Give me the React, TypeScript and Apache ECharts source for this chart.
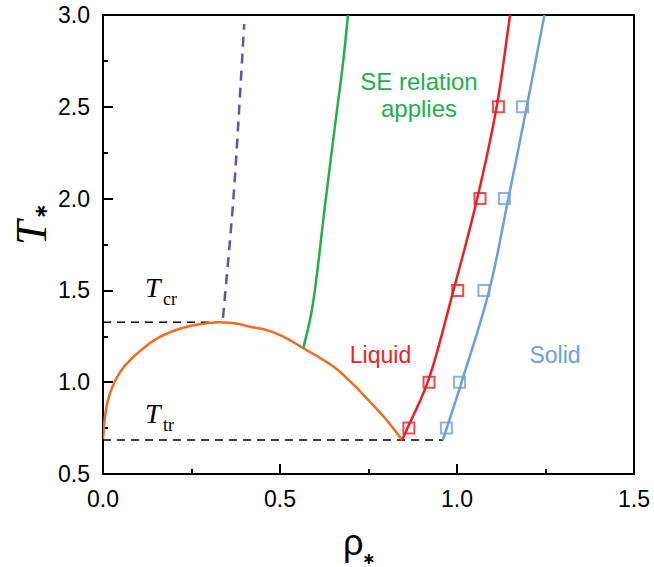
import React, { useEffect, useRef } from "react";
import * as echarts from "echarts";

// Coexistence (gas-liquid) curve
const coexRho = [0, 0.0056, 0.014, 0.029, 0.057, 0.105, 0.152, 0.199, 0.246, 0.29, 0.33, 0.38, 0.415, 0.462, 0.509, 0.566, 0.651, 0.698, 0.745, 0.801, 0.845];
const coexT = [0.69, 0.812, 0.9, 0.985, 1.078, 1.17, 1.237, 1.279, 1.306, 1.32, 1.326, 1.318, 1.302, 1.284, 1.248, 1.185, 1.085, 1.005, 0.912, 0.794, 0.685];

// Dashed line above the critical point
const dashRho = [0.339, 0.368, 0.399];
const dashT = [1.35, 1.992, 2.95];

// SE relation boundary (green)
const seRho = [0.566, 0.59, 0.629, 0.655, 0.679, 0.692];
const seT = [1.185, 1.393, 1.992, 2.392, 2.755, 3.0];

// Freezing line (red)
const freezeRho = [0.845, 0.86, 0.917, 0.99, 1.057, 1.112, 1.15];
const freezeT = [0.685, 0.75, 1.0, 1.5, 2.0, 2.5, 3.0];

// Melting line (blue)
const meltRho = [0.96, 0.971, 1.013, 1.091, 1.145, 1.197, 1.247];
const meltT = [0.685, 0.75, 1.0, 1.5, 2.0, 2.5, 3.0];

// Simulation points
const liqPtRho = [0.864, 0.921, 1.002, 1.065, 1.117];
const liqPtT = [0.75, 1.0, 1.5, 2.0, 2.5];
const solPtRho = [0.97, 1.007, 1.076, 1.134, 1.185];
const solPtT = [0.75, 1.0, 1.5, 2.0, 2.5];

// Critical and triple temperatures
const Tcr = 1.326;
const Ttr = 0.685;
const TcrLineRho = [0, 0.33];
const TtrLineRho = [0, 0.96];

const zip = (a: number[], b: number[]) => a.map((v, i) => [v, b[i]]);

const ORANGE = "#f26b21";
const GREEN = "#20b04b";
const RED = "#ee1d23";
const BLUE = "#6a9fd9";
const PURPLE = "#6b4fa6";

const SANS = "'Liberation Sans', Arial, Helvetica, sans-serif";
const SERIF = "'Liberation Serif', 'Times New Roman', serif";

// Centripetal Catmull-Rom spline through pixel points (rendering only)
function catmullRom(P: number[][], seg: number): number[][] {
  const n = P.length;
  if (n < 3) return P;
  const out: number[][] = [P[0]];
  const d = (a: number[], b: number[]) => Math.max(Math.pow(Math.hypot(a[0] - b[0], a[1] - b[1]), 0.5), 1e-4);
  const lerp = (a: number[], b: number[], ta: number, tb: number, t: number) => {
    const w = (t - ta) / (tb - ta);
    return [a[0] + (b[0] - a[0]) * w, a[1] + (b[1] - a[1]) * w];
  };
  for (let i = 0; i < n - 1; i++) {
    const p1 = P[i];
    const p2 = P[i + 1];
    const p0 = i > 0 ? P[i - 1] : [2 * p1[0] - p2[0], 2 * p1[1] - p2[1]];
    const p3 = i + 2 < n ? P[i + 2] : [2 * p2[0] - p1[0], 2 * p2[1] - p1[1]];
    const t0 = 0;
    const t1 = t0 + d(p0, p1);
    const t2 = t1 + d(p1, p2);
    const t3 = t2 + d(p2, p3);
    for (let k = 1; k <= seg; k++) {
      const t = t1 + ((t2 - t1) * k) / seg;
      const A1 = lerp(p0, p1, t0, t1, t);
      const A2 = lerp(p1, p2, t1, t2, t);
      const A3 = lerp(p2, p3, t2, t3, t);
      const B1 = lerp(A1, A2, t0, t2, t);
      const B2 = lerp(A2, A3, t1, t3, t);
      out.push(lerp(B1, B2, t1, t2, t));
    }
  }
  return out;
}

function curve(rho: number[], T: number[], color: string, width: number, dash?: number[]) {
  const pts = zip(rho, T);
  return {
    type: "custom",
    data: pts,
    z: 3,
    clip: true,
    silent: true,
    renderItem: (params: any, api: any) => {
      if (params.dataIndex !== 0) return null;
      const px = pts.map((p) => api.coord(p));
      return {
        type: "polyline",
        shape: { points: catmullRom(px, 16) },
        style: { stroke: color, lineWidth: width, fill: null, lineDash: dash, lineJoin: "round", lineCap: "butt" },
      };
    },
  };
}

export default function App() {
  const ref = useRef<HTMLDivElement>(null);
  useEffect(() => {
    if (!ref.current) return;
    const chart = echarts.init(ref.current, undefined, { renderer: "svg" });
    const lineBase = { type: "line", showSymbol: false, symbol: "none", z: 2 } as any;
    const axisCommon = {
      axisLine: { show: true, onZero: false, lineStyle: { color: "#000", width: 2 } },
      axisTick: { show: true, inside: true, length: 10, lineStyle: { color: "#000", width: 2 } },
      minorTick: { show: true, splitNumber: 2, length: 5, lineStyle: { color: "#000", width: 2 } },
      splitLine: { show: false },
      axisLabel: { color: "#000", fontSize: 23, fontFamily: SANS, margin: 13, formatter: (v: number) => v.toFixed(1) },
    };
    chart.setOption({
      animation: false,
      grid: { left: 103, top: 15, right: 20, bottom: 93, show: true, borderColor: "#000", borderWidth: 2, backgroundColor: "transparent" },
      xAxis: { type: "value", min: 0, max: 1.5, interval: 0.5, ...axisCommon },
      yAxis: { type: "value", min: 0.5, max: 3.0, interval: 0.5, ...axisCommon },
      series: [
        { ...lineBase, data: zip(TcrLineRho, [Tcr, Tcr]), lineStyle: { color: "#000", width: 1.5, type: [8, 6] } },
        { ...lineBase, data: zip(TtrLineRho, [Ttr, Ttr]), lineStyle: { color: "#000", width: 1.5, type: [8, 6] } },
        curve(coexRho, coexT, ORANGE, 2.5),
        curve(dashRho, dashT, PURPLE, 2.5, [10, 7]),
        curve(seRho, seT, GREEN, 2.5),
        curve(freezeRho, freezeT, RED, 2.5),
        curve(meltRho, meltT, BLUE, 2.5),
        { type: "scatter", data: zip(liqPtRho, liqPtT), symbol: "rect", symbolSize: 11, z: 4, itemStyle: { color: "rgba(255,255,255,0)", borderColor: RED, borderWidth: 2 } },
        { type: "scatter", data: zip(solPtRho, solPtT), symbol: "rect", symbolSize: 11, z: 4, itemStyle: { color: "rgba(255,255,255,0)", borderColor: BLUE, borderWidth: 2 } },
      ],
      graphic: [
        { type: "text", x: 419, y: 81.5, style: { text: "SE relation", fill: GREEN, font: `24px ${SANS}`, align: "center", verticalAlign: "middle" } },
        { type: "text", x: 419, y: 108.5, style: { text: "applies", fill: GREEN, font: `24px ${SANS}`, align: "center", verticalAlign: "middle" } },
        { type: "text", x: 380.5, y: 355, style: { text: "Liquid", fill: RED, font: `23px ${SANS}`, align: "center", verticalAlign: "middle" } },
        { type: "text", x: 555, y: 355, style: { text: "Solid", fill: BLUE, font: `23px ${SANS}`, align: "center", verticalAlign: "middle" } },
        { type: "text", x: 145, y: 287, style: { text: "T", fill: "#000", font: `italic 28px ${SERIF}`, align: "left", verticalAlign: "middle" } },
        { type: "text", x: 163, y: 299, style: { text: "cr", fill: "#000", font: `18px ${SERIF}`, align: "left", verticalAlign: "middle" } },
        { type: "text", x: 145, y: 413, style: { text: "T", fill: "#000", font: `italic 28px ${SERIF}`, align: "left", verticalAlign: "middle" } },
        { type: "text", x: 163, y: 425, style: { text: "tr", fill: "#000", font: `18px ${SERIF}`, align: "left", verticalAlign: "middle" } },
        // x-axis title
        { type: "text", x: 343, y: 542, style: { text: "ρ", fill: "#000", font: `36px ${SANS}`, align: "left", verticalAlign: "middle" } },
        { type: "text", x: 362, y: 558, style: { text: "∗", fill: "#000", font: `bold 16px 'DejaVu Sans', sans-serif`, align: "left", verticalAlign: "middle" } },
        // y-axis title (rotated)
        {
          type: "group", x: 31, y: 245, rotation: Math.PI / 2,
          children: [
            { type: "text", x: 0, y: 0, style: { text: "T", fill: "#000", font: `italic 44px ${SERIF}`, align: "left", verticalAlign: "middle" } },
            { type: "text", x: 26, y: 9, style: { text: "∗", fill: "#000", font: `bold 18px 'DejaVu Sans', sans-serif`, align: "left", verticalAlign: "middle" } },
          ],
        },
      ],
    });
    return () => chart.dispose();
  }, []);
  return <div ref={ref} style={{ position: "absolute", left: 0, top: 0, width: 654, height: 567 }} />;
}
